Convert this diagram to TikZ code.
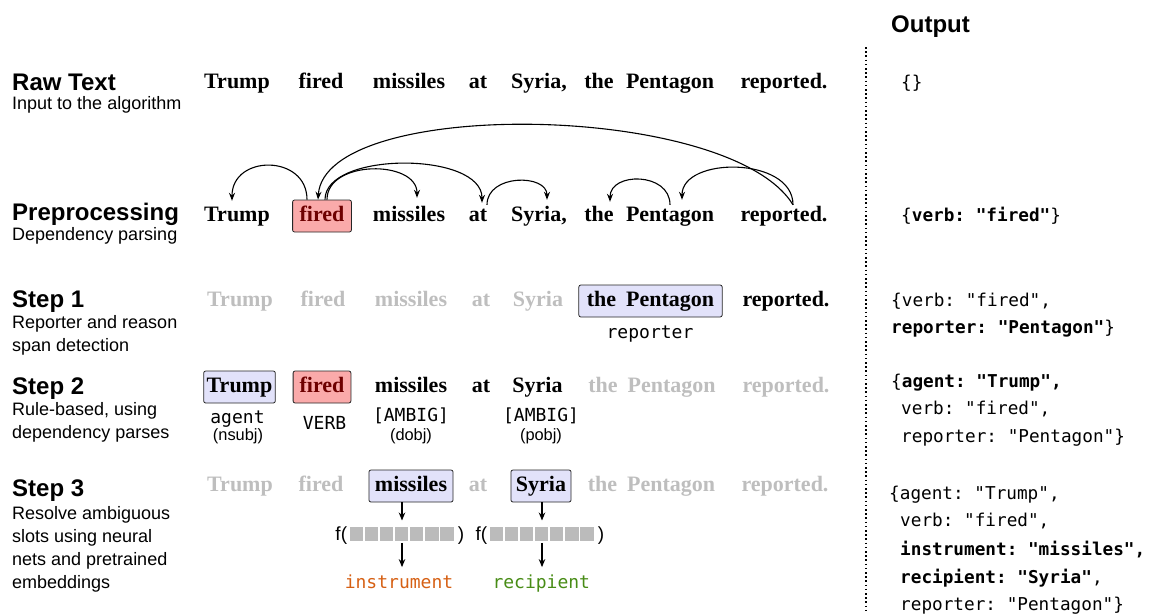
\documentclass[tikz,border=0pt]{standalone}
\usepackage{fontspec}
\setmainfont{Liberation Serif}
\setsansfont{Liberation Sans}
\setmonofont{DejaVu Sans Mono}
\usetikzlibrary{arrows.meta}
\definecolor{wgray}{RGB}{190,190,190}
\definecolor{pinkfill}{RGB}{250,170,170}
\definecolor{pinktext}{RGB}{110,0,0}
\definecolor{lavfill}{RGB}{226,226,250}
\definecolor{barsq}{RGB}{187,187,187}
\definecolor{instrc}{RGB}{214,96,20}
\definecolor{recipc}{RGB}{72,140,22}
\begin{document}
\begin{tikzpicture}[x=1pt,y=-1pt,
  word/.style={font=\fontsize{22}{26}\selectfont\bfseries, anchor=base, inner sep=0pt, text height=15pt, text depth=5pt},
  gword/.style={word, text=wgray},
  wbox/.style={word, draw=black!85, rounded corners=2pt, inner ysep=6pt, inner xsep=5pt, line width=0.8pt},
  redbox/.style={wbox, fill=pinkfill, text=pinktext},
  bluebox/.style={wbox, fill=lavfill},
  title/.style={font=\sffamily\bfseries\fontsize{24}{28}\selectfont, anchor=base west, inner sep=0pt},
  sub/.style={font=\sffamily\fontsize{18}{22}\selectfont, anchor=base west, inner sep=0pt},
  mono/.style={font=\ttfamily\fontsize{17.7}{20}\selectfont, anchor=base west, inner sep=0pt},
  tag/.style={font=\ttfamily\fontsize{18}{20}\selectfont, anchor=base, inner sep=0pt},
  small/.style={font=\sffamily\fontsize{16.4}{18}\selectfont, anchor=base, inner sep=0pt},
  fpar/.style={font=\sffamily\fontsize{19}{22}\selectfont, inner sep=0pt},
  dep/.style={-{Stealth[length=8pt,width=6pt]}, line width=1.1pt},
  down/.style={-{Stealth[length=8pt,width=6.5pt]}, line width=1.3pt},
  sep/.style={line width=1.8pt, dash pattern=on 1.6pt off 2.6pt}
]
\useasboundingbox (0,0) rectangle (1156,613);

% ---------- left labels ----------
\node[title] (t0) at (12,90) {Raw Text};
\node[sub] (s0) at (12,109) {Input to the algorithm};
\node[title] (t1) at (12,220) {Preprocessing};
\node[sub] (s1) at (12,240) {Dependency parsing};
\node[title] (t2) at (12,307) {Step 1};
\node[sub] (s2a) at (12,328) {Reporter and reason};
\node[sub] (s2b) at (12,351) {span detection};
\node[title] (t3) at (12,394) {Step 2};
\node[sub] (s3a) at (12,415) {Rule-based, using};
\node[sub] (s3b) at (12,438) {dependency parses};
\node[title] (t4) at (12,496) {Step 3};
\node[sub] (s4a) at (12,519) {Resolve ambiguous};
\node[sub] (s4b) at (12,542) {slots using neural};
\node[sub] (s4c) at (12,565) {nets and pretrained};
\node[sub] (s4d) at (12,588) {embeddings};

% ---------- raw text row ----------
\node[word] (rtrump) at (237,88) {Trump};
\node[word] (rfired) at (321,88) {fired};
\node[word] (rmissiles) at (409,88) {missiles};
\node[word] (rat) at (478,88) {at};
\node[word] (rsyria) at (539,88) {Syria,};
\node[word] (rthe) at (599,88) {the};
\node[word] (rpentagon) at (670,88) {Pentagon};
\node[word] (rreported) at (784,88) {reported.};

% ---------- preprocessing row ----------
\node[word] (ptrump) at (237,221) {Trump};
\node[redbox, inner xsep=7pt] (pfired) at (322,221) {fired};
\node[word] (pmissiles) at (409,221) {missiles};
\node[word] (pat) at (478,221) {at};
\node[word] (psyria) at (539,221) {Syria,};
\node[word] (pthe) at (599,221) {the};
\node[word] (ppentagon) at (670,221) {Pentagon};
\node[word] (preported) at (784,221) {reported.};

\draw[dep] ([xshift=-15pt]pfired.north) .. controls +(0,-45.5) and +(0,-46.5) .. ([xshift=-5pt,yshift=5pt]ptrump.north);
\draw[dep] ([xshift=5pt]pfired.north) .. controls +(0,-40) and +(0,-38) .. ([xshift=8pt,yshift=8pt]pmissiles.north);
\draw[dep] ([xshift=3pt]pfired.north) .. controls +(0,-48.5) and +(0,-51.5) .. ([xshift=4pt,yshift=3pt]pat.north);
\draw[dep] ([xshift=9pt,yshift=1pt]pat.north) .. controls +(0,-31) and +(0,-26) .. ([xshift=8pt,yshift=6pt]psyria.north);
\draw[dep] ([yshift=1pt]ppentagon.north) .. controls +(0,-33) and +(0,-30) .. ([xshift=11pt,yshift=4pt]pthe.north);
\draw[dep] ([xshift=9pt,yshift=1pt]preported.north) .. controls +(0,-48.5) and +(0,-43.5) .. ([xshift=12pt,yshift=6pt]ppentagon.north);
\draw[dep] ([xshift=9pt,yshift=1pt]preported.north) .. controls +(-63,-103) and +(7,-103) .. ([xshift=-4pt]pfired.north);

% ---------- step 1 row ----------
\node[gword] (atrump) at (240,306) {Trump};
\node[gword] (afired) at (323,306) {fired};
\node[gword] (amissiles) at (411,306) {missiles};
\node[gword] (aat) at (481,306) {at};
\node[gword] (asyria) at (538,306) {Syria};
\node[bluebox, inner xsep=8pt] (athepent) at (650.5,306) {the\hspace{10pt}Pentagon};
\node[word] (areported) at (786,306) {reported.};
\node[tag] (areporter) at (650,338) {reporter};

% ---------- step 2 row ----------
\node[bluebox, inner xsep=3pt] (btrump) at (239.5,392) {Trump};
\node[redbox, inner xsep=6.5pt] (bfired) at (322,392) {fired};
\node[word] (bmissiles) at (411,392) {missiles};
\node[word] (bat) at (481,392) {at};
\node[word] (bsyria) at (537.5,392) {Syria};
\node[gword] (bthepent) at (652,392) {the\hspace{10pt}Pentagon};
\node[gword] (breported) at (786,392) {reported.};
\node[tag] (bagent) at (237.5,423) {agent};
\node[small] (bnsubj) at (238,440) {(nsubj)};
\node[tag] (bverb) at (324.5,429) {VERB};
\node[tag] (bamb1) at (411,421) {[AMBIG]};
\node[small] (bdobj) at (411,440) {(dobj)};
\node[tag] (bamb2) at (541,421) {[AMBIG]};
\node[small] (bpobj) at (541,440) {(pobj)};

% ---------- step 3 row ----------
\node[gword] (ctrump) at (240,491) {Trump};
\node[gword] (cfired) at (321,491) {fired};
\node[bluebox, inner xsep=6pt] (cmissiles) at (411,491) {missiles};
\node[gword] (cat) at (478,491) {at};
\node[bluebox, inner xsep=5pt] (csyria) at (541,491) {Syria};
\node[gword] (cthepent) at (651.5,491) {the\hspace{10pt}Pentagon};
\node[gword] (creported) at (785,491) {reported.};

\node[minimum width=106pt, minimum height=14pt, inner sep=0pt] (bar1) at (402,533.7) {};
\node[minimum width=106pt, minimum height=14pt, inner sep=0pt] (bar2) at (542,533.7) {};
\foreach \i in {0,...,6} {
  \fill[barsq] ([xshift=\i*15.1pt+0.9pt]bar1.north west) rectangle ++(13.3,14);
  \fill[barsq] ([xshift=\i*15.1pt+0.9pt]bar2.north west) rectangle ++(13.3,14);
}
\node[fpar, anchor=base east] (f1) at ([xshift=-1.5pt,yshift=-7pt]bar1.west) {f(};
\node[fpar, anchor=base west] (p1) at ([xshift=2.5pt,yshift=-7pt]bar1.east) {)};
\node[fpar, anchor=base east] (f2) at ([xshift=-1.5pt,yshift=-7pt]bar2.west) {f(};
\node[fpar, anchor=base west] (p2) at ([xshift=2.5pt,yshift=-7pt]bar2.east) {)};

\node[tag, text=instrc] (instr) at (399,588) {instrument};
\node[tag, text=recipc] (recip) at (541.3,588) {recipient};

\draw[down, shorten >=6pt] (bar1.north |- cmissiles.south) -- (bar1.north);
\draw[down, shorten >=6pt] (bar2.north |- csyria.south) -- (bar2.north);
\draw[down, shorten <=2pt, shorten >=7pt] (bar1.south) -- (bar1.south |- instr.north);
\draw[down, shorten <=2pt, shorten >=7pt] (bar2.south) -- (bar2.south |- recip.north);

% ---------- separator ----------
\coordinate (septop) at (866,47);
\coordinate (sepbot) at (866,613);
\draw[sep] (septop) -- (sepbot);

% ---------- output column ----------
\node[title] (otitle) at (891,32) {Output};
\node[mono] (o0) at (901,88) {\{\}};
\node[mono] (o1) at (901,221) {\{\textbf{verb: "fired"}\}};
\node[mono] (o2a) at (891,306) {\{verb: "fired",};
\node[mono] (o2b) at (891,333) {\textbf{reporter: "Pentagon"}\}};
\node[mono] (o3a) at (891,387) {\{\textbf{agent: "Trump",}};
\node[mono] (o3b) at (901,414) {verb: "fired",};
\node[mono] (o3c) at (901,442) {reporter: "Pentagon"\}};
\node[mono] (o4a) at (889,499) {\{agent: "Trump",};
\node[mono] (o4b) at (900,526) {verb: "fired",};
\node[mono] (o4c) at (900,555) {\textbf{instrument: "missiles",}};
\node[mono] (o4d) at (900,583) {\textbf{recipient: "Syria"},};
\node[mono] (o4e) at (900,610) {reporter: "Pentagon"\}};
\end{tikzpicture}
\end{document}
